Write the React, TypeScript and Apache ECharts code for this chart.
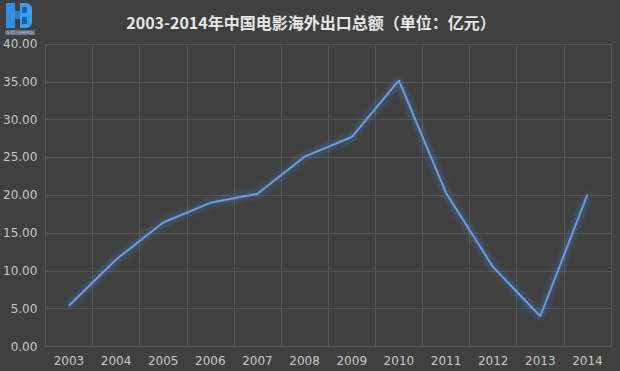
import React, { useEffect, useRef } from "react";
import * as echarts from "echarts";

const years = ["2003", "2004", "2005", "2006", "2007", "2008", "2009", "2010", "2011", "2012", "2013", "2014"];
const exportValues = [5.4, 11.5, 16.4, 19.0, 20.2, 25.1, 27.7, 35.2, 20.3, 10.5, 4.0, 20.1];
const titleText = "2003-2014年中国电影海外出口总额（单位：亿元）";

export default function App() {
  const ref = useRef<HTMLDivElement>(null);
  useEffect(() => {
    if (!ref.current) return;
    const chart = echarts.init(ref.current, undefined, { renderer: "svg" });
    chart.setOption({
      animation: false,
      backgroundColor: "#404040",
      title: {
        text: titleText,
        left: 306,
        textAlign: "center",
        top: 9,
        textStyle: {
          color: "#e6e6e6",
          fontSize: 16,
          fontWeight: "bold",
          fontFamily: "'Noto Sans CJK SC', sans-serif",
        },
      },
      graphic: [
        { type: "rect", shape: { x: 6, y: 3, width: 9, height: 25 }, style: { fill: "#2f8fe0" } },
        { type: "rect", shape: { x: 15, y: 11, width: 5, height: 8 }, style: { fill: "#2a7fd0" } },
        { type: "rect", shape: { x: 20, y: 3, width: 12, height: 25, r: [0, 6, 6, 0] }, style: { fill: "#3aa0ee" } },
        { type: "rect", shape: { x: 22, y: 7, width: 5, height: 6 }, style: { fill: "#1b5fa8" } },
        { type: "rect", shape: { x: 22, y: 17, width: 5, height: 7 }, style: { fill: "#1b5fa8" } },
        { type: "rect", shape: { x: 5, y: 30, width: 30, height: 5 }, style: { fill: "#5a6a7a" } },
        {
          type: "text",
          x: 20,
          y: 32.5,
          style: { text: "乐居行业研究院", fill: "#d0d0d0", fontSize: 4, align: "center", verticalAlign: "middle" },
        },
      ],
      grid: { left: 45, right: 9, top: 44, bottom: 24.5, show: false },
      xAxis: {
        type: "category",
        data: years,
        boundaryGap: true,
        axisLine: { show: false },
        axisTick: { show: false },
        axisLabel: {
          color: "#c8c8c8",
          fontSize: 12,
          margin: 8,
          fontFamily: "'DejaVu Sans', sans-serif",
          interval: 0,
        },
        splitLine: { show: true, interval: 0, lineStyle: { color: "#575757", width: 1 } },
      },
      yAxis: {
        type: "value",
        min: 0,
        max: 40,
        interval: 5,
        axisLine: { show: false },
        axisTick: { show: false },
        axisLabel: {
          color: "#c8c8c8",
          fontSize: 12,
          margin: 8,
          fontFamily: "'DejaVu Sans', sans-serif",
          formatter: (v: number) => v.toFixed(2),
        },
        splitLine: { lineStyle: { color: "#575757", width: 1 } },
      },
      series: [
        {
          type: "line",
          data: exportValues,
          symbol: "none",
          lineStyle: {
            color: "#6a9de0",
            width: 2,
            shadowColor: "rgba(80,150,240,0.9)",
            shadowBlur: 7,
          },
        },
      ],
    });
    return () => chart.dispose();
  }, []);
  return <div ref={ref} style={{ width: 620, height: 371, position: "absolute", left: 0, top: 0 }} />;
}
